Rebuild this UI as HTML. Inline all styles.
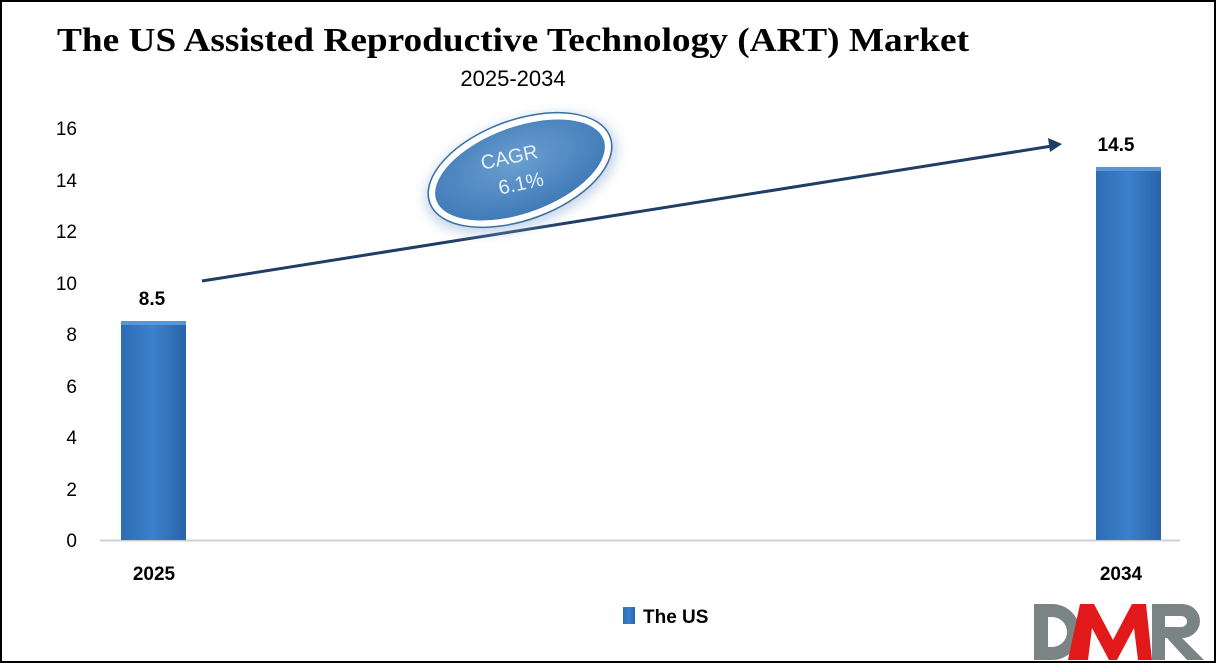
<!DOCTYPE html>
<html><head><style>
body{margin:0;background:#fff;}
svg{display:block;}
</style></head><body>
<svg width="1216" height="663" xmlns="http://www.w3.org/2000/svg">
<defs>
<linearGradient id="bar" x1="0" x2="1" y1="0" y2="0">
<stop offset="0" stop-color="#2e6db4"/><stop offset="0.5" stop-color="#3a80cc"/><stop offset="1" stop-color="#2a64a8"/>
</linearGradient>
<radialGradient id="ell" cx="0.5" cy="0.4" r="0.6">
<stop offset="0" stop-color="#6a9fd0"/><stop offset="1" stop-color="#3d78b6"/>
</radialGradient>
<filter id="glow" x="-30%" y="-50%" width="160%" height="200%"><feGaussianBlur stdDeviation="6"/></filter>
</defs>
<rect x="1" y="1" width="1214" height="661" fill="#fff" stroke="#000" stroke-width="2"/>
<text x="513" y="51" text-anchor="middle" font-family="Liberation Serif, serif" font-weight="bold" font-size="34" fill="#000" textLength="912" lengthAdjust="spacingAndGlyphs">The US Assisted Reproductive Technology (ART) Market</text>
<text x="513" y="86" text-anchor="middle" font-family="Liberation Sans, sans-serif" font-size="22" fill="#000">2025-2034</text>
<g font-family="Liberation Sans, sans-serif" font-size="19" fill="#000" text-anchor="end">
<text x="77" y="547">0</text><text x="77" y="496">2</text><text x="77" y="444">4</text><text x="77" y="393">6</text>
<text x="77" y="341">8</text><text x="77" y="290">10</text><text x="77" y="238">12</text><text x="77" y="187">14</text><text x="77" y="135">16</text>
</g>
<line x1="100" y1="540.5" x2="1180" y2="540.5" stroke="#d0d0d0" stroke-width="2"/>
<rect x="121" y="321" width="65" height="219" fill="url(#bar)"/>
<rect x="121" y="321" width="65" height="4" fill="#5a95d5"/>
<rect x="1096" y="167" width="65" height="373" fill="url(#bar)"/>
<rect x="1096" y="167" width="65" height="4" fill="#5a95d5"/>
<g font-family="Liberation Sans, sans-serif" font-weight="bold" font-size="19" fill="#000" text-anchor="middle">
<text x="152" y="305">8.5</text><text x="1116" y="151">14.5</text>
<text x="154" y="580">2025</text><text x="1121" y="580">2034</text>
</g>
<line x1="202" y1="281" x2="1052" y2="146" stroke="#1f3e66" stroke-width="3"/>
<polygon points="1062,144 1048,138 1050,152" fill="#1f3e66"/>
<g transform="rotate(-20 520 170)">
<ellipse cx="520" cy="174" rx="100" ry="52" fill="#9ab8d8" filter="url(#glow)" opacity="0.6"/>
<ellipse cx="520" cy="170" rx="92" ry="46" fill="url(#ell)" stroke="#fff" stroke-width="6"/>
<ellipse cx="520" cy="170" rx="96" ry="50" fill="none" stroke="#3d6fa5" stroke-width="1.5"/>
</g>
<g font-family="Liberation Sans, sans-serif" font-size="20" fill="#e8f0f8" text-anchor="middle" transform="rotate(-12 515 170)">
<text x="512" y="163">CAGR</text><text x="518" y="191">6.1%</text>
</g>
<rect x="623" y="607" width="12" height="17" fill="url(#bar)"/>
<text x="643" y="623" font-family="Liberation Sans, sans-serif" font-weight="bold" font-size="19" fill="#000">The US</text>
<g>
<path d="M1034,604 h18 a28,28 0 0 1 28,28 v0 a28,28 0 0 1 -28,28 h-18 z M1048,617 v30 h4 a15,15 0 0 0 0,-30 z" fill="#7b8484" fill-rule="evenodd"/>
<path d="M1068,660 L1080,604 h14 l19,36 l19,-36 h14 l6,56 h-14 l-4,-32 l-17,32 h-8 l-17,-32 l-4,32 z" fill="#e2191b"/>
<path d="M1152,604 h30 a18,17 0 0 1 0,34 l22,22 h-17 l-20,-22 h-2 v22 h-13 z M1165,616 v11 h16 a6,5.5 0 0 0 0,-11 z" fill="#7b8484" fill-rule="evenodd"/>
</g>
</svg>
</body></html>
